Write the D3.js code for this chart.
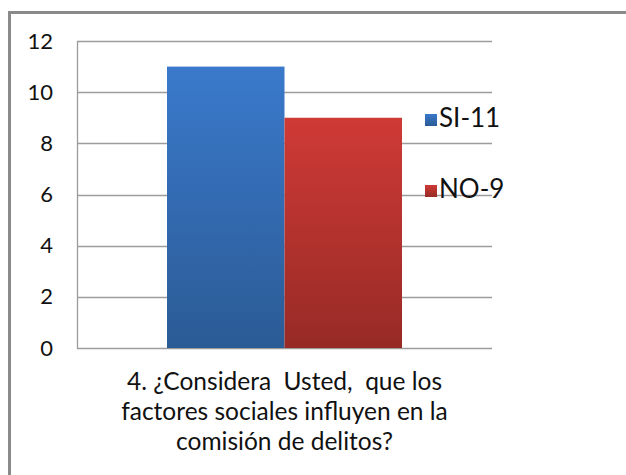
<!DOCTYPE html>
<html>
<head>
<meta charset="utf-8">
<script src="https://cdn.jsdelivr.net/npm/d3@7"></script>
<style>
    body { margin: 0; background: #fff; overflow: hidden; }
    text { font-family: Lato, "Open Sans", sans-serif; fill: #111; }
</style>
</head>
<body>
<script>
'use strict';

const seriesNames = ['SI-11', 'NO-9'];
const seriesValues = [11, 9];
const categoryLines = ['4. ¿Considera  Usted,  que los', 'factores sociales influyen en la', 'comisión de delitos?'];
const yTicks = [0, 2, 4, 6, 8, 10, 12];

(function () {

    function getPlotArea() {
        return {
            svg: { width: 626, height: 475 },
            left: 77,
            right: 492,
            top: 41,
            bottom: 348
        };
    }

    function makeScales(plot) {
        return {
            y: d3.scaleLinear().domain([0, 12]).range([plot.bottom, plot.top]),
            x: d3.scaleBand().domain(seriesNames)
                .range([plot.left + 90, plot.right - 90])
                .paddingInner(0)
        };
    }

    /**
     * Vertical gradients used for the bars and legend chips.
     */
    function appendGradients(svg) {
        const defs = svg.append('defs');
        const colors = [['#3a79cb', '#2b5b95'], ['#cf3a36', '#972a26']];
        colors.forEach((c, i) => {
            const g = defs.append('linearGradient')
                .attr('id', 'grad' + i)
                .attr('x1', 0).attr('y1', 0).attr('x2', 0).attr('y2', 1);
            g.append('stop').attr('offset', '0%').attr('stop-color', c[0]);
            g.append('stop').attr('offset', '100%').attr('stop-color', c[1]);
        });
    }

    function appendFrame(svg, plot) {
        svg.append('path')
            .attr('d', 'M 9.5,' + (plot.svg.height + 5) + ' V 12.5 H ' + (plot.svg.width + 10))
            .attr('fill', 'none')
            .attr('stroke', '#8a8a8a')
            .attr('stroke-width', 3);
    }

    function appendGrid(svg, plot, scales) {
        const grid = svg.append('g').attr('class', 'grid');
        grid.selectAll('line')
            .data(yTicks)
            .enter()
            .append('line')
            .attr('x1', plot.left)
            .attr('x2', plot.right)
            .attr('y1', d => Math.round(scales.y(d)) + 0.5)
            .attr('y2', d => Math.round(scales.y(d)) + 0.5)
            .attr('stroke', '#9c9c9c')
            .attr('stroke-width', 1.3);
        grid.append('line')
            .attr('x1', plot.left + 0.5).attr('x2', plot.left + 0.5)
            .attr('y1', plot.top).attr('y2', plot.bottom + 0.5)
            .attr('stroke', '#9c9c9c')
            .attr('stroke-width', 1.3);

        const axis = d3.axisLeft(scales.y).tickValues(yTicks).tickSize(0).tickPadding(24);
        const axisGroup = svg.append('g')
            .attr('transform', 'translate(' + plot.left + ',0)')
            .call(axis);
        axisGroup.select('.domain').remove();
        axisGroup.selectAll('text')
            .attr('font-size', 22)
            .attr('font-family', 'Lato, sans-serif')
            .attr('fill', '#111');
    }

    function appendBars(svg, plot, scales) {
        svg.append('g')
            .selectAll('rect')
            .data(seriesValues)
            .enter()
            .append('rect')
            .attr('x', (d, i) => scales.x(seriesNames[i]))
            .attr('width', scales.x.bandwidth())
            .attr('y', d => scales.y(d))
            .attr('height', d => plot.bottom - scales.y(d))
            .attr('fill', (d, i) => 'url(#grad' + i + ')');
    }

    function appendCategoryLabel(svg, plot) {
        const cx = (plot.left + plot.right) / 2;
        svg.append('g')
            .selectAll('text')
            .data(categoryLines)
            .enter()
            .append('text')
            .attr('x', cx)
            .attr('y', (d, i) => 390 + i * 30)
            .attr('text-anchor', 'middle')
            .attr('font-size', 24.5)
            .style('white-space', 'pre')
            .text(d => d);
    }

    function appendLegend(svg) {
        const rows = [127, 198];
        const legend = svg.append('g').attr('class', 'legend');
        seriesNames.forEach((name, i) => {
            legend.append('rect')
                .attr('x', 425)
                .attr('y', rows[i] - 13)
                .attr('width', 12)
                .attr('height', 12)
                .attr('fill', 'url(#grad' + i + ')');
            legend.append('text')
                .attr('x', 439)
                .attr('y', rows[i])
                .attr('font-size', 26)
                .text(name);
        });
    }

    function draw() {
        const plot = getPlotArea();
        const svg = d3.select('body').append('svg')
            .attr('width', plot.svg.width)
            .attr('height', plot.svg.height)
            .style('display', 'block');
        const scales = makeScales(plot);
        appendGradients(svg);
        appendFrame(svg, plot);
        appendGrid(svg, plot, scales);
        appendBars(svg, plot, scales);
        appendCategoryLabel(svg, plot);
        appendLegend(svg);
    }

    window.onload = draw;

})();
</script>
</body>
</html>
